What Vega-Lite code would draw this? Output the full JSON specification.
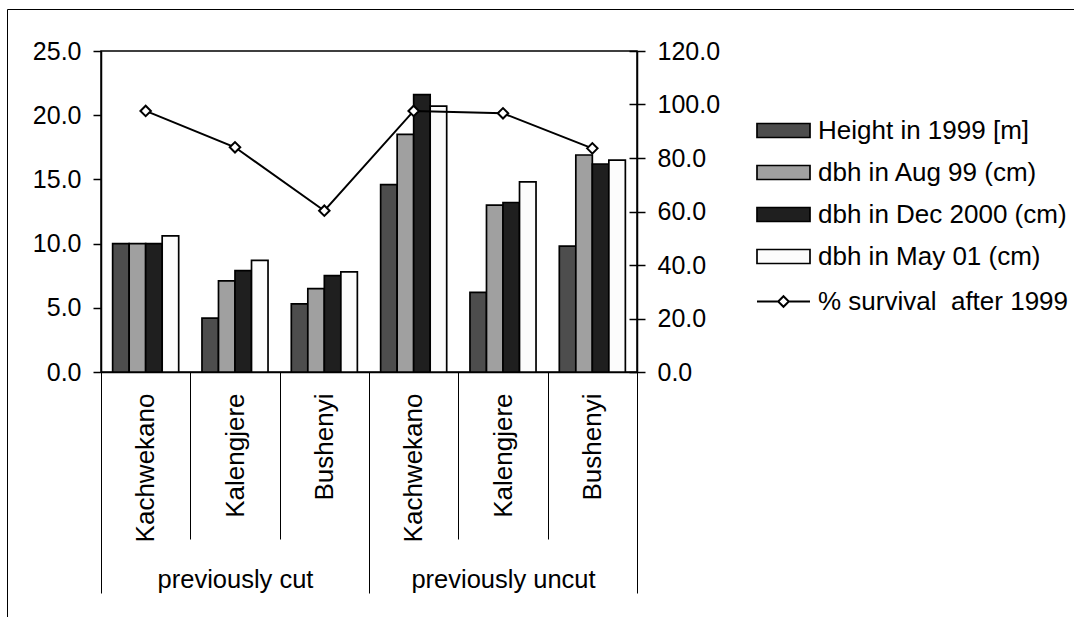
{
  "$schema": "https://vega.github.io/schema/vega-lite/v6.json",
  "width": 536,
  "height": 321,
  "autosize": {"type": "none"},
  "padding": {"left": 101, "top": 51, "right": 437, "bottom": 245},
  "background": "white",
  "config": {
    "font": "Liberation Sans",
    "view": {"stroke": "black", "strokeWidth": 1.5},
    "axis": {
      "labelColor": "black",
      "labelFontSize": 25,
      "labelFont": "Liberation Sans",
      "labelLimit": 400,
      "grid": false,
      "title": null,
      "domainColor": "black",
      "tickColor": "black"
    },
    "legend": {
      "labelFontSize": 26,
      "labelFont": "Liberation Sans",
      "labelColor": "black",
      "labelLimit": 400,
      "padding": 0,
      "title": null
    }
  },
  "datasets": {
    "growth": [
      {"plot": "previously cut|Kachwekano", "series": "Height in 1999 [m]", "value": 10.0},
      {"plot": "previously cut|Kachwekano", "series": "dbh in Aug 99 (cm)", "value": 10.0},
      {"plot": "previously cut|Kachwekano", "series": "dbh in Dec 2000 (cm)", "value": 10.0},
      {"plot": "previously cut|Kachwekano", "series": "dbh in May 01 (cm)", "value": 10.6},
      {"plot": "previously cut|Kalengjere", "series": "Height in 1999 [m]", "value": 4.2},
      {"plot": "previously cut|Kalengjere", "series": "dbh in Aug 99 (cm)", "value": 7.1},
      {"plot": "previously cut|Kalengjere", "series": "dbh in Dec 2000 (cm)", "value": 7.9},
      {"plot": "previously cut|Kalengjere", "series": "dbh in May 01 (cm)", "value": 8.7},
      {"plot": "previously cut|Bushenyi", "series": "Height in 1999 [m]", "value": 5.3},
      {"plot": "previously cut|Bushenyi", "series": "dbh in Aug 99 (cm)", "value": 6.5},
      {"plot": "previously cut|Bushenyi", "series": "dbh in Dec 2000 (cm)", "value": 7.5},
      {"plot": "previously cut|Bushenyi", "series": "dbh in May 01 (cm)", "value": 7.8},
      {"plot": "previously uncut|Kachwekano", "series": "Height in 1999 [m]", "value": 14.6},
      {"plot": "previously uncut|Kachwekano", "series": "dbh in Aug 99 (cm)", "value": 18.5},
      {"plot": "previously uncut|Kachwekano", "series": "dbh in Dec 2000 (cm)", "value": 21.6},
      {"plot": "previously uncut|Kachwekano", "series": "dbh in May 01 (cm)", "value": 20.7},
      {"plot": "previously uncut|Kalengjere", "series": "Height in 1999 [m]", "value": 6.2},
      {"plot": "previously uncut|Kalengjere", "series": "dbh in Aug 99 (cm)", "value": 13.0},
      {"plot": "previously uncut|Kalengjere", "series": "dbh in Dec 2000 (cm)", "value": 13.2},
      {"plot": "previously uncut|Kalengjere", "series": "dbh in May 01 (cm)", "value": 14.8},
      {"plot": "previously uncut|Bushenyi", "series": "Height in 1999 [m]", "value": 9.8},
      {"plot": "previously uncut|Bushenyi", "series": "dbh in Aug 99 (cm)", "value": 16.9},
      {"plot": "previously uncut|Bushenyi", "series": "dbh in Dec 2000 (cm)", "value": 16.2},
      {"plot": "previously uncut|Bushenyi", "series": "dbh in May 01 (cm)", "value": 16.5}
    ],
    "survival": [
      {"plot": "previously cut|Kachwekano", "survival": 97.6},
      {"plot": "previously cut|Kalengjere", "survival": 84.0},
      {"plot": "previously cut|Bushenyi", "survival": 60.3},
      {"plot": "previously uncut|Kachwekano", "survival": 97.6},
      {"plot": "previously uncut|Kalengjere", "survival": 96.7},
      {"plot": "previously uncut|Bushenyi", "survival": 83.6}
    ],
    "groups": [
      {"group": "previously cut"},
      {"group": "previously uncut"}
    ]
  },
  "resolve": {"scale": {"x": "independent", "y": "independent"}},
  "layer": [
    {
      "data": {"name": "growth"},
      "mark": {"type": "bar", "stroke": "black", "strokeWidth": 1.7},
      "encoding": {
        "x": {
          "field": "plot",
          "type": "nominal",
          "sort": null,
          "scale": {"paddingInner": 0, "paddingOuter": 0},
          "axis": {
            "orient": "bottom",
            "domainWidth": 1.5,
            "tickBand": "extent",
            "tickSize": 167,
            "tickWidth": 1,
            "labelAngle": 270,
            "labelFontSize": 26,
            "labelPadding": -146,
            "labelExpr": "split(datum.label, '|')[1]"
          }
        },
        "xOffset": {
          "field": "series",
          "type": "nominal",
          "sort": null,
          "scale": {"paddingInner": 0, "paddingOuter": 0.705}
        },
        "y": {
          "field": "value",
          "type": "quantitative",
          "scale": {"domain": [0, 25], "nice": false},
          "axis": {
            "orient": "left",
            "values": [0, 5, 10, 15, 20, 25],
            "format": ".1f",
            "domainWidth": 1.5,
            "tickWidth": 1.5,
            "tickSize": 8,
            "labelPadding": 12
          }
        },
        "fill": {
          "field": "series",
          "type": "nominal",
          "sort": null,
          "scale": {
            "domain": ["Height in 1999 [m]", "dbh in Aug 99 (cm)", "dbh in Dec 2000 (cm)", "dbh in May 01 (cm)"],
            "range": ["#4d4d4d", "#a0a0a0", "#1f1f1f", "#fcfcfc"]
          },
          "legend": {
            "orient": "none",
            "legendX": 655,
            "legendY": 52,
            "symbolType": "M-1,-0.264H1V0.264H-1Z",
            "symbolSize": 2809,
            "symbolStrokeColor": "black",
            "symbolStrokeWidth": 1.7,
            "labelOffset": 7,
            "labelBaseline": "middle",
            "rowPadding": 1
          }
        }
      }
    },
    {
      "data": {"name": "survival"},
      "mark": {"type": "line", "color": "black", "strokeWidth": 2},
      "encoding": {
        "x": {
          "field": "plot",
          "type": "nominal",
          "sort": null,
          "scale": {"type": "band", "paddingInner": 0, "paddingOuter": 0},
          "axis": null
        },
        "y": {
          "field": "survival",
          "type": "quantitative",
          "scale": {"domain": [0, 120], "nice": false},
          "axis": {
            "orient": "right",
            "values": [0, 20, 40, 60, 80, 100, 120],
            "format": ".1f",
            "domainWidth": 1.5,
            "tickWidth": 1.5,
            "tickSize": 8,
            "labelPadding": 12
          }
        },
        "stroke": {
          "datum": "% survival\u00a0 after 1999",
          "scale": {"range": ["black"]},
          "legend": {
            "orient": "none",
            "legendX": 655,
            "legendY": 223,
            "symbolType": "M-1,0H-0.2M0.2,0H1M0,-0.2L0.2,0L0,0.2L-0.2,0Z",
            "symbolSize": 2809,
            "symbolStrokeWidth": 2,
            "symbolFillColor": "white",
            "labelOffset": 7,
            "labelBaseline": "middle"
          }
        }
      }
    },
    {
      "data": {"name": "survival"},
      "mark": {"type": "point", "shape": "diamond", "filled": true, "fill": "white", "stroke": "black", "strokeWidth": 2, "size": 110, "opacity": 1},
      "encoding": {
        "x": {
          "field": "plot",
          "type": "nominal",
          "sort": null,
          "scale": {"type": "band", "paddingInner": 0, "paddingOuter": 0},
          "axis": null
        },
        "y": {
          "field": "survival",
          "type": "quantitative",
          "scale": {"domain": [0, 120], "nice": false},
          "axis": {
            "orient": "right",
            "values": [0, 20, 40, 60, 80, 100, 120],
            "domain": false,
            "labels": false,
            "tickWidth": 1.5,
            "tickSize": -8
          }
        }
      }
    },
    {
      "data": {"name": "groups"},
      "mark": {"type": "point", "opacity": 0},
      "encoding": {
        "x": {
          "field": "group",
          "type": "nominal",
          "sort": null,
          "scale": {"type": "band", "paddingInner": 0, "paddingOuter": 0},
          "axis": {
            "orient": "bottom",
            "domain": false,
            "tickBand": "extent",
            "tickSize": 221,
            "tickWidth": 1,
            "labelAngle": 0,
            "labelFontSize": 25.5,
            "labelPadding": -26
          }
        },
        "shape": {
          "datum": "outline",
          "scale": {"range": ["circle"]},
          "legend": {
            "orient": "none",
            "legendX": -94,
            "legendY": -42,
            "padding": 620,
            "strokeColor": "black",
            "labelExpr": "''",
            "symbolOpacity": 0,
            "symbolSize": 0,
            "encode": {"legend": {"update": {"strokeWidth": {"value": 2}}}}
          }
        }
      }
    }
  ]
}
